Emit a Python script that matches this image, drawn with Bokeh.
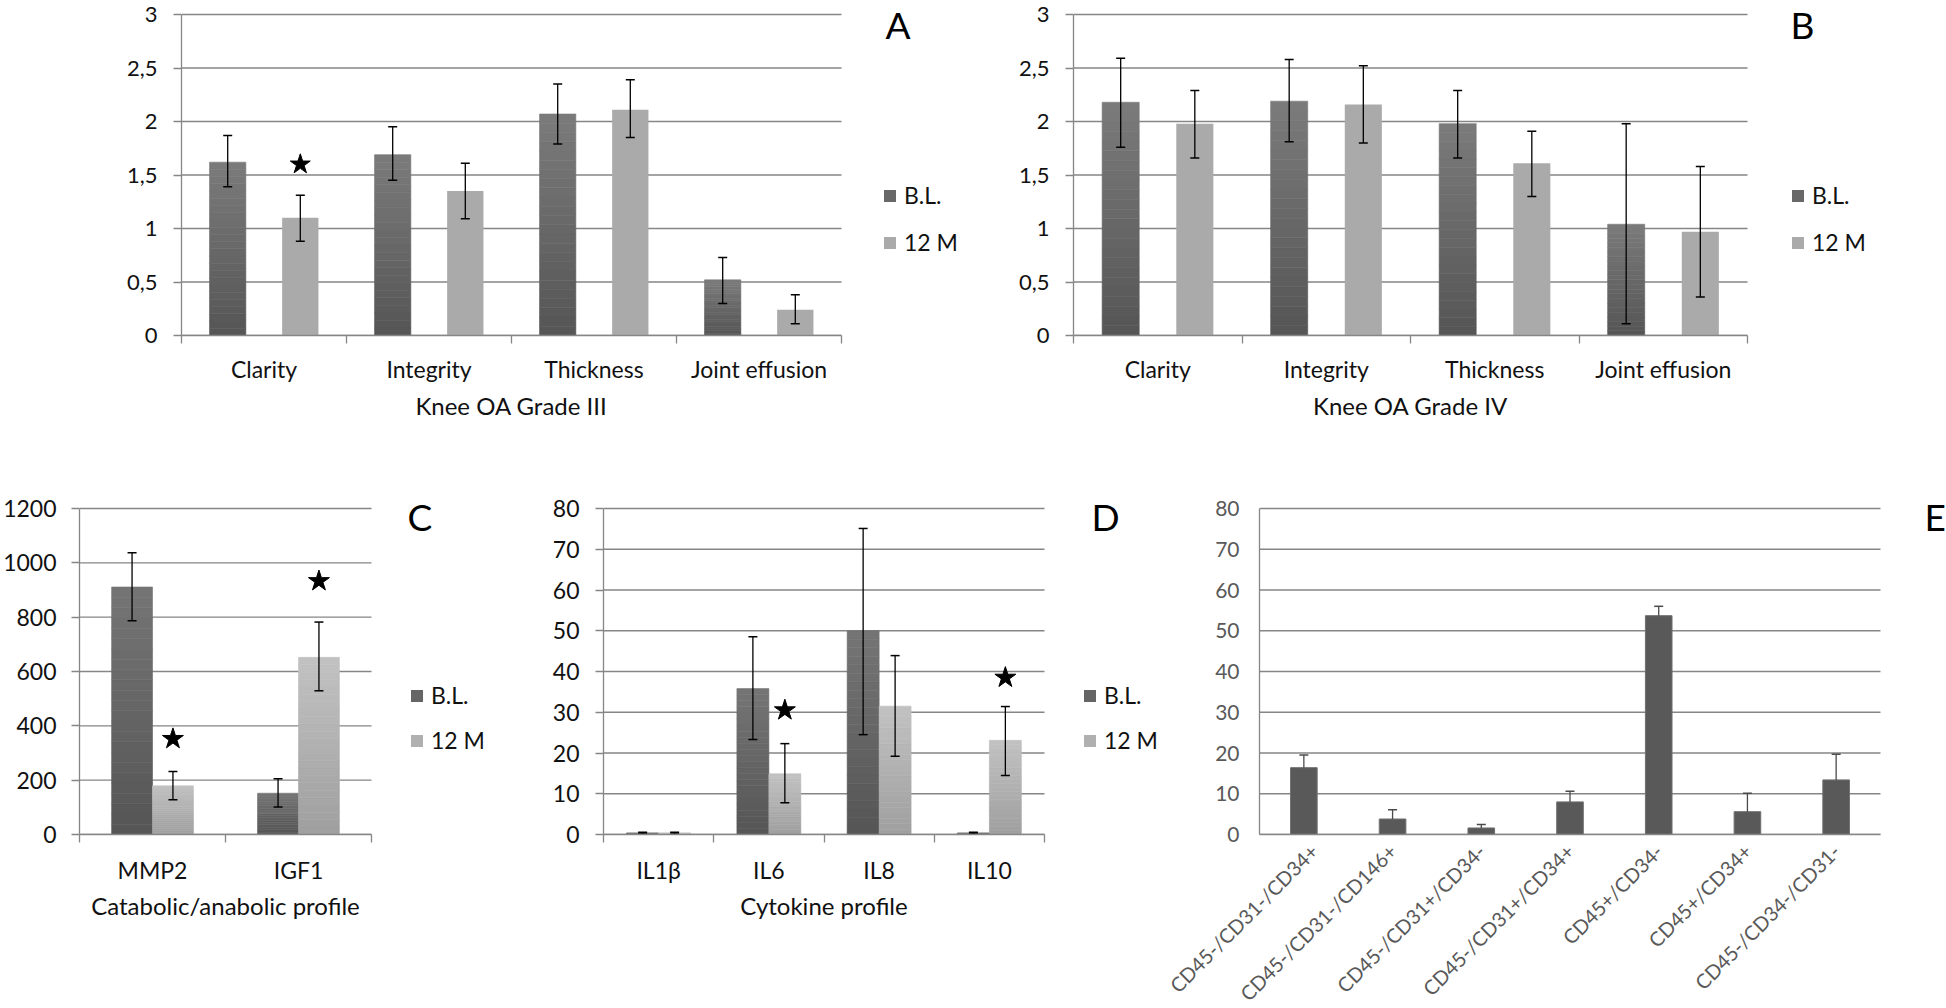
import numpy as np
from bokeh.plotting import figure
from bokeh.models import (Range1d, FixedTicker, CustomJSTickFormatter, Legend,
                          LegendItem, Label, LinearAxis)
from bokeh.layouts import column, row
from bokeh.embed import file_html
from bokeh.resources import INLINE

# ---------------- data ----------------
knee_cats = ["Clarity", "Integrity", "Thickness", "Joint effusion"]

g3_bl = [1.62, 1.69, 2.07, 0.52]
g3_bl_lo = [1.39, 1.45, 1.79, 0.30]
g3_bl_hi = [1.87, 1.95, 2.35, 0.73]
g3_12m = [1.10, 1.35, 2.11, 0.24]
g3_12m_lo = [0.88, 1.09, 1.85, 0.11]
g3_12m_hi = [1.31, 1.61, 2.39, 0.38]
g3_star_cat = [0]
g3_star_y = [1.60]

g4_bl = [2.18, 2.19, 1.98, 1.04]
g4_bl_lo = [1.76, 1.81, 1.66, 0.11]
g4_bl_hi = [2.59, 2.58, 2.29, 1.98]
g4_12m = [1.98, 2.16, 1.61, 0.97]
g4_12m_lo = [1.66, 1.80, 1.30, 0.36]
g4_12m_hi = [2.29, 2.52, 1.91, 1.58]

cat_cats = ["MMP2", "IGF1"]
cat_bl = [911, 152]
cat_bl_lo = [787, 101]
cat_bl_hi = [1037, 205]
cat_12m = [179, 652]
cat_12m_lo = [128, 529]
cat_12m_hi = [232, 782]
cat_star_cat = [0, 1]
cat_star_y = [352, 933]

cyt_cats = ["IL1\u03b2", "IL6", "IL8", "IL10"]
cyt_bl = [0.3, 35.8, 50.0, 0.3]
cyt_bl_lo = [0.1, 23.3, 24.5, 0.1]
cyt_bl_hi = [0.55, 48.5, 75.1, 0.55]
cyt_12m = [0.3, 14.9, 31.5, 23.1]
cyt_12m_lo = [0.1, 7.8, 19.2, 14.5]
cyt_12m_hi = [0.55, 22.3, 43.9, 31.4]
cyt_star_cat = [1, 3]
cyt_star_y = [30.5, 38.5]

cd_cats = ["CD45-/CD31-/CD34+", "CD45-/CD31-/CD146+", "CD45-/CD31+/CD34-",
           "CD45-/CD31+/CD34+", "CD45+/CD34-", "CD45+/CD34+", "CD45-/CD34-/CD31-"]
cd_vals = [16.4, 3.8, 1.6, 8.0, 53.7, 5.6, 13.4]
cd_hi = [19.5, 6.05, 2.45, 10.6, 56.0, 10.1, 19.7]

series_names = ["B.L.", "12 M"]

# ---------------- styling ----------------
FONT = "Lato"
GRID = "#868686"
TXT = "#111111"


def base_fig(cats, ymax, ystep, fig_x0, fig_x1, fig_y0, fig_y1, ax_left, ax_right,
             frame_top, y0_px, ymax_px, comma=False, tick_size="22px", cat_size="23px",
             text_color=TXT, ytick_out=8, ystandoff=16, minor_out=8, xstandoff=11,
             orientation=None):
    n = len(cats)
    frame_w = fig_x1 - ax_left
    frame_h = y0_px - frame_top
    x_end = n * frame_w / (ax_right - ax_left)
    y_end = ymax * frame_h / (y0_px - ymax_px)
    p = figure(frame_width=frame_w, frame_height=frame_h,
               output_backend="svg", toolbar_location=None,
               x_range=Range1d(0, x_end), y_range=Range1d(0, y_end),
               min_border_left=ax_left - fig_x0, min_border_right=0,
               min_border_top=frame_top - fig_y0, min_border_bottom=fig_y1 - y0_px)
    p.outline_line_color = None
    p.background_fill_color = "white"
    p.border_fill_color = "white"
    p.xgrid.visible = False
    p.ygrid.visible = False

    yt = list(np.arange(0, ymax + ystep / 2, ystep))
    # horizontal gridlines spanning only the category area
    p.segment(x0=[0] * len(yt), y0=yt, x1=[n] * len(yt), y1=yt,
              line_color=GRID, line_width=1.3, level="underlay")

    ya = p.yaxis[0]
    ya.bounds = (0, ymax)
    ya.ticker = FixedTicker(ticks=yt)
    if comma:
        ya.formatter = CustomJSTickFormatter(code="return tick.toString().replace('.', ',');")
    else:
        ya.formatter = CustomJSTickFormatter(code="return tick.toFixed(0);")
    ya.axis_line_color = GRID
    ya.axis_line_width = 1.3
    ya.major_tick_line_color = GRID
    ya.major_tick_line_width = 1.3
    ya.major_tick_out = ytick_out
    ya.major_tick_in = 0
    ya.minor_tick_line_color = None
    ya.major_label_standoff = ystandoff
    ya.major_label_text_font = FONT
    ya.major_label_text_font_size = tick_size
    ya.major_label_text_color = text_color

    xa = p.xaxis[0]
    xa.bounds = (0, n)
    xa.ticker = FixedTicker(ticks=list(np.arange(n) + 0.5), minor_ticks=list(range(n + 1)))
    xa.formatter = CustomJSTickFormatter(args=dict(names=list(cats)), code="return names[index];")
    xa.axis_line_color = GRID
    xa.axis_line_width = 1.3
    xa.major_tick_line_color = None
    xa.major_tick_out = 0
    xa.major_tick_in = 0
    if minor_out > 0:
        xa.minor_tick_line_color = GRID
        xa.minor_tick_line_width = 1.3
        xa.minor_tick_out = minor_out
        xa.minor_tick_in = 0
    else:
        xa.minor_tick_line_color = None
        xa.minor_tick_out = 0
    xa.major_label_standoff = xstandoff
    xa.major_label_text_font = FONT
    xa.major_label_text_font_size = cat_size
    xa.major_label_text_color = text_color
    if orientation is not None:
        xa.major_label_orientation = orientation
    return p


def hex2rgb(h):
    h = h.lstrip("#")
    return np.array([int(h[i:i + 2], 16) for i in (0, 2, 4)], dtype=float)


def shade(c_bottom, c_top, t):
    c = hex2rgb(c_bottom) * (1 - t) + hex2rgb(c_top) * t
    return "#%02x%02x%02x" % tuple(int(round(v)) for v in c)


def add_series(p, vals, lo, hi, offset, width, c_bottom, c_top, err_color="black",
               outline=None, cap=9, nslices=24, lower_cap=True):
    n = len(vals)
    xs = np.arange(n) + 0.5 + offset
    vals = np.asarray(vals, dtype=float)
    if c_bottom == c_top:
        p.vbar(x=xs, top=vals, bottom=0, width=width, fill_color=c_top,
               line_color=outline, line_width=1)
    else:
        # vertical colour gradient: each bar painted as thin horizontal bands
        k = np.arange(nslices)
        bx = np.repeat(xs, nslices)
        bb = np.concatenate([v * k / nslices for v in vals])
        bt = np.concatenate([v * (k + 1) / nslices for v in vals])
        cols = [shade(c_bottom, c_top, (j + 0.5) / nslices) for _ in vals for j in k]
        p.vbar(x=bx, top=bt, bottom=bb, width=width, fill_color=cols, line_color=cols,
               line_width=0.6)
    # legend swatch renderer (mid colour, zero-height bar so nothing shows in the plot)
    sw = p.vbar(x=[xs[0]], top=[0], bottom=[0], width=width,
                fill_color=shade(c_bottom, c_top, 0.5), line_color=None)
    p.segment(x0=xs, y0=lo, x1=xs, y1=hi, line_color=err_color, line_width=1.3)
    p.scatter(x=xs, y=hi, marker="dash", size=cap, line_color=err_color, line_width=1.5)
    if lower_cap:
        p.scatter(x=xs, y=lo, marker="dash", size=cap, line_color=err_color, line_width=1.5)
    return sw


def add_stars(p, cat_idx, ys, offset, size=22):
    xs = np.array(cat_idx) + 0.5 + offset
    p.scatter(x=xs, y=ys, marker="star", size=size, fill_color="black", line_color="black")


def add_legend(p, renderers, lx, ly, spacing=19):
    items = [LegendItem(label=nm, renderers=[r]) for nm, r in zip(series_names, renderers)]
    lg = Legend(items=items, location=(lx, ly), orientation="vertical",
                background_fill_alpha=0, border_line_alpha=0,
                glyph_width=15, glyph_height=15, label_text_font=FONT,
                label_text_font_size="23px", label_text_color=TXT,
                label_standoff=7, spacing=spacing, padding=0, margin=0)
    p.add_layout(lg)


def add_letter(p, txt, lx, ly, size="37px"):
    p.add_layout(Label(x=lx, y=ly, x_units="screen", y_units="screen", text=txt,
                       text_font=FONT, text_font_size=size, text_color="black",
                       text_baseline="alphabetic"))


def add_xtitle(p, txt, n, standoff=5):
    # axis title centred under the category area (a one-tick axis below the category axis)
    ta = LinearAxis(ticker=FixedTicker(ticks=[n / 2]),
                    formatter=CustomJSTickFormatter(args=dict(t=txt), code="return t;"),
                    bounds=(0, n))
    ta.axis_line_color = None
    ta.major_tick_line_color = None
    ta.minor_tick_line_color = None
    ta.major_tick_out = 0
    ta.major_tick_in = 0
    ta.minor_tick_out = 0
    ta.major_label_standoff = standoff
    ta.major_label_text_font = FONT
    ta.major_label_text_font_size = "24px"
    ta.major_label_text_color = TXT
    p.add_layout(ta, "below")


BL_B, BL_T = "#555555", "#7b7b7b"
M_AB = "#aaaaaa"
M_B, M_T = "#9f9f9f", "#c2c2c2"

# page coordinates (the page is drawn from its top-left corner)
TOP_Y0, TOP_Y1 = 0, 432
BOT_Y0, BOT_Y1 = 432, 1006

# ---------------- Panel A ----------------
pA = base_fig(knee_cats, 3, 0.5, 0, 960, TOP_Y0, TOP_Y1, 181, 841, 0, 335, 14, comma=True)
rA1 = add_series(pA, g3_bl, g3_bl_lo, g3_bl_hi, -0.22, 0.22, BL_B, BL_T)
rA2 = add_series(pA, g3_12m, g3_12m_lo, g3_12m_hi, 0.22, 0.22, M_AB, M_AB)
add_stars(pA, g3_star_cat, g3_star_y, 0.22, size=21)
add_legend(pA, [rA1, rA2], 701, 79)
add_letter(pA, "A", 704, 311)
add_xtitle(pA, "Knee OA Grade III", len(knee_cats))

# ---------------- Panel B ----------------
pB = base_fig(knee_cats, 3, 0.5, 960, 1944, TOP_Y0, TOP_Y1, 1073, 1747, 0, 335, 14, comma=True)
rB1 = add_series(pB, g4_bl, g4_bl_lo, g4_bl_hi, -0.22, 0.22, BL_B, BL_T)
rB2 = add_series(pB, g4_12m, g4_12m_lo, g4_12m_hi, 0.22, 0.22, M_AB, M_AB)
add_legend(pB, [rB1, rB2], 717, 79)
add_letter(pB, "B", 717, 311)
add_xtitle(pB, "Knee OA Grade IV", len(knee_cats))

# ---------------- Panel C ----------------
pC = base_fig(cat_cats, 1200, 200, 0, 508, BOT_Y0, BOT_Y1, 75, 367, 490, 834, 508,
              tick_size="23px", ystandoff=15, xstandoff=13)
rC1 = add_series(pC, cat_bl, cat_bl_lo, cat_bl_hi, -0.14, 0.28, BL_B, "#757575")
rC2 = add_series(pC, cat_12m, cat_12m_lo, cat_12m_hi, 0.14, 0.28, M_B, M_T)
add_stars(pC, cat_star_cat, cat_star_y, 0.14)
add_legend(pC, [rC1, rC2], 330, 80, spacing=17)
add_letter(pC, "C", 328, 318)
add_xtitle(pC, "Catabolic/anabolic profile", len(cat_cats), standoff=4)

# ---------------- Panel D ----------------
pD = base_fig(cyt_cats, 80, 10, 508, 1160, BOT_Y0, BOT_Y1, 599, 1040, 490, 834, 508,
              tick_size="23px", ystandoff=16, xstandoff=13)
rD1 = add_series(pD, cyt_bl, cyt_bl_lo, cyt_bl_hi, -0.145, 0.29, BL_B, "#757575")
rD2 = add_series(pD, cyt_12m, cyt_12m_lo, cyt_12m_hi, 0.145, 0.29, M_B, M_T)
add_stars(pD, cyt_star_cat, cyt_star_y, 0.145)
add_legend(pD, [rD1, rD2], 479, 80, spacing=17)
add_letter(pD, "D", 488, 318)
add_xtitle(pD, "Cytokine profile", len(cyt_cats), standoff=4)

# ---------------- Panel E ----------------
pE = base_fig(cd_cats, 80, 10, 1160, 1944, BOT_Y0, BOT_Y1, 1255, 1876, 490, 834, 508,
              tick_size="21px", cat_size="20px", text_color="#595959", ytick_out=0,
              ystandoff=20, minor_out=0, xstandoff=13, orientation=np.pi / 4)
add_series(pE, cd_vals, cd_vals, cd_hi, 0.0, 0.30, "#595959", "#595959",
           err_color="#4a4a4a", outline="#6f6f6f", lower_cap=False)
add_letter(pE, "E", 665, 318)

layout = column(row(pA, pB, spacing=0), row(pC, pD, pE, spacing=0), spacing=0)

open("out.html", "w").write(file_html(layout, INLINE))
